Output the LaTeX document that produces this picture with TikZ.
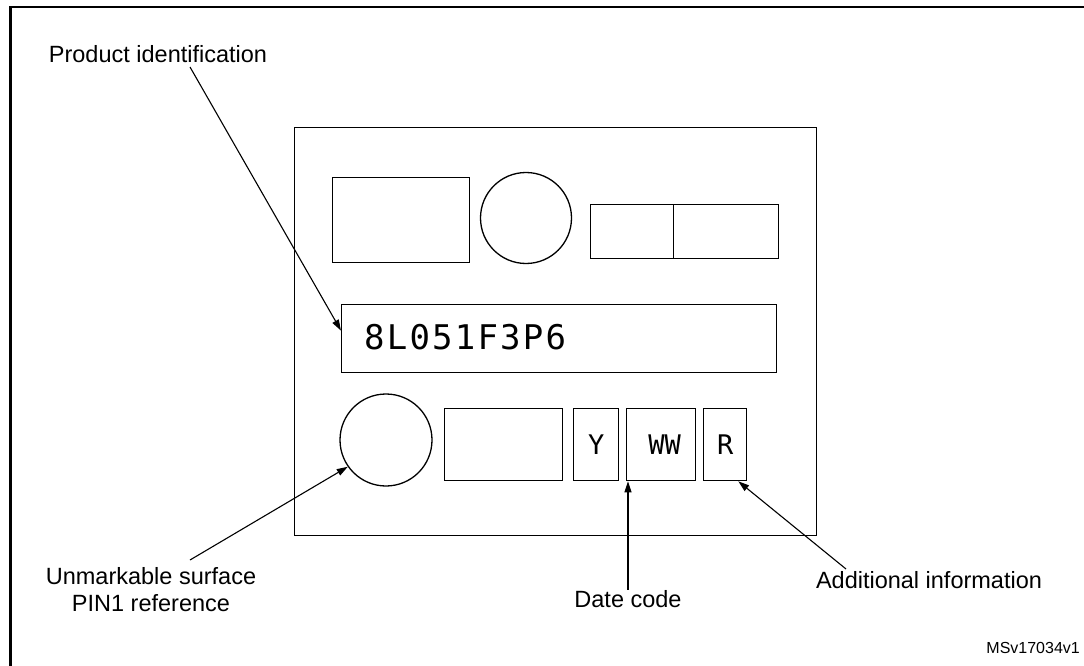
\documentclass[tikz,border=0pt]{standalone}
\usepackage{fontspec}
\setmainfont{Liberation Sans}
\newfontfamily\segfont{DejaVu Sans Mono}[LetterSpace=6.5]
\newfontfamily\segfontb{DejaVu Sans Mono}
\usetikzlibrary{arrows.meta}
\begin{document}
\begin{tikzpicture}[x=1pt,y=-1pt,
  shp/.style={draw, line width=1.3pt, inner sep=0pt, anchor=north west},
  rnd/.style={draw, circle, line width=1.3pt, inner sep=0pt},
  lbl/.style={font=\fontsize{23.5}{27}\selectfont, align=center, inner sep=0pt},
  seg/.style={font=\segfontb\fontsize{27}{27}\selectfont},
  arr/.style={line width=1.1pt, -{Triangle[length=11pt,width=7pt]}},
  ]
\useasboundingbox (0,0) rectangle (1084,666);
% outer frame (partly cut)
\draw[line width=2.5pt] (10.5,666) |- (1084,7);
% package outline
\node[shp, minimum width=522pt, minimum height=408pt] (pkg) at (294,127) {};
% top row
\node[shp, minimum width=137pt, minimum height=85pt] (tl) at (332,177) {};
\node[rnd, minimum size=91pt] (tc) at (526,218) {};
\node[shp, minimum width=83pt, minimum height=54pt] (tra) at (590,204) {};
\node[shp, minimum width=105pt, minimum height=54pt] (trb) at (673,204) {};
% marking line
\node[shp, minimum width=435pt, minimum height=68pt] (tb) at (341,304) {};
\node[anchor=west, inner sep=0pt, font=\segfont\fontsize{34}{34}\selectfont] (pid) at (364,337.5) {8L051F3P6};
% bottom row
\node[rnd, minimum size=92pt] (pin) at (386,440) {};
\node[shp, minimum width=118pt, minimum height=72pt] (bl) at (444,408) {};
\node[shp, seg, minimum width=45pt, minimum height=72pt] (yb) at (573,408) {Y};
\node[shp, seg, minimum width=69pt, minimum height=72pt] (wb) at (626,408) {\hspace{7pt}WW};
\node[shp, seg, minimum width=43pt, minimum height=72pt] (rb) at (703,408) {R};
% labels
\node[lbl, anchor=base] (lpi) at (158,63) {Product identification};
\node[lbl, anchor=north] (lpin) at (151,567) {Unmarkable surface\\PIN1 reference};
\node[lbl, anchor=base] (ldc) at (628,607) {Date code};
\node[lbl, anchor=base] (lai) at (929,588) {Additional information};
\node[anchor=base east, inner sep=0pt, font=\fontsize{16}{16}\selectfont] (ms) at (1080,653) {MSv17034v1};
% connectors
\coordinate (spi) at (190,67);
\coordinate (spin) at (190,560);
\coordinate (sai) at (846,569);
\draw[arr] (spi) -- ([yshift=8pt]tb.west);
\draw[arr] (spin) -- (pin.215);
\draw[arr] (ldc.north) -- (ldc.north |- wb.south);
\draw[arr] (sai) -- ([xshift=-9pt]rb.south east);
\end{tikzpicture}
\end{document}
